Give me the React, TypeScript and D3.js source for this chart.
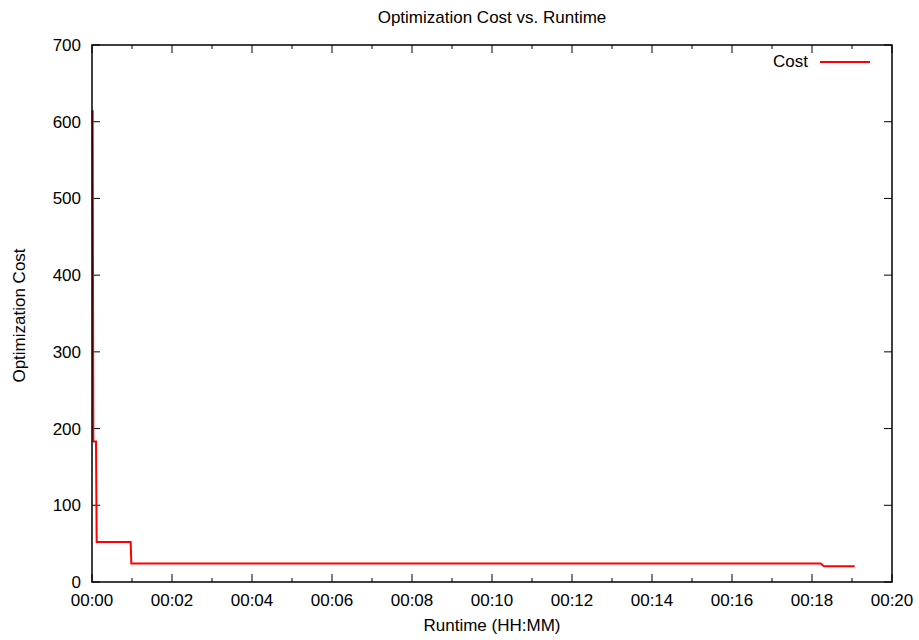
import React, { useEffect, useRef } from "react";
import * as d3 from "d3";

// runtime in seconds, optimization cost
const runtimeSec = [1, 2, 6, 7, 58, 59, 1093, 1098, 1144];
const costValues = [615, 183, 183, 52, 52, 24, 24, 20.5, 20.5];
const yTicks = [0, 100, 200, 300, 400, 500, 600, 700];
const xMajorMinutes = [0, 2, 4, 6, 8, 10, 12, 14, 16, 18, 20];
const xMinorMinutes = [1, 3, 5, 7, 9, 11, 13, 15, 17, 19];

const App = () => {
	const svgRef = useRef<SVGSVGElement>(null);

	useEffect(() => {
		const root = d3.select(svgRef.current);
		root.selectAll("*").remove();

		const width = 919;
		const height = 640;
		const margin = { top: 45, right: 27, bottom: 58, left: 92 };
		const w = width - margin.left - margin.right;
		const h = height - margin.top - margin.bottom;
		const font = "'Liberation Sans', Arial, Helvetica, sans-serif";
		const fs = "17px";

		root.attr("width", width).attr("height", height);
		const svg = root
			.append("g")
			.attr("transform", `translate(${margin.left},${margin.top})`);

		const x = d3.scaleLinear().domain([0, 20 * 60]).range([0, w]);
		const y = d3.scaleLinear().domain([0, 700]).range([h, 0]);

		const fmt = (m: number) =>
			`${String(Math.floor(m / 60)).padStart(2, "0")}:${String(m % 60).padStart(2, "0")}`;

		// ticks on all four sides
		const tickGroup = svg.append("g").attr("stroke", "#000").attr("stroke-width", 1);
		xMajorMinutes.forEach((m) => {
			const px = x(m * 60);
			tickGroup.append("line").attr("x1", px).attr("x2", px).attr("y1", h).attr("y2", h - 8);
			tickGroup.append("line").attr("x1", px).attr("x2", px).attr("y1", 0).attr("y2", 8);
		});
		xMinorMinutes.forEach((m) => {
			const px = x(m * 60);
			tickGroup.append("line").attr("x1", px).attr("x2", px).attr("y1", h).attr("y2", h - 4);
			tickGroup.append("line").attr("x1", px).attr("x2", px).attr("y1", 0).attr("y2", 4);
		});
		yTicks.forEach((v) => {
			const py = y(v);
			tickGroup.append("line").attr("x1", 0).attr("x2", 8).attr("y1", py).attr("y2", py);
			tickGroup.append("line").attr("x1", w).attr("x2", w - 8).attr("y1", py).attr("y2", py);
		});

		// tick labels
		svg
			.selectAll(".xlabel")
			.data(xMajorMinutes)
			.enter()
			.append("text")
			.attr("x", (m) => x(m * 60))
			.attr("y", h + 24)
			.attr("text-anchor", "middle")
			.style("font-family", font)
			.style("font-size", fs)
			.text((m) => fmt(m));

		svg
			.selectAll(".ylabel")
			.data(yTicks)
			.enter()
			.append("text")
			.attr("x", -11)
			.attr("y", (v) => y(v) + 6)
			.attr("text-anchor", "end")
			.style("font-family", font)
			.style("font-size", fs)
			.text((v) => v);

		// cost line
		const points = runtimeSec.map((t, i) => [t, costValues[i]] as [number, number]);
		const line = d3
			.line<[number, number]>()
			.x((d) => x(d[0]))
			.y((d) => y(d[1]));

		svg
			.append("path")
			.datum(points)
			.attr("d", line)
			.attr("fill", "none")
			.attr("stroke", "#ff0000")
			.attr("stroke-width", 2);

		// border
		svg
			.append("rect")
			.attr("width", w)
			.attr("height", h)
			.attr("fill", "none")
			.attr("stroke", "#000")
			.attr("stroke-width", 1.5);

		// legend
		svg
			.append("text")
			.attr("x", 716)
			.attr("y", 22)
			.attr("text-anchor", "end")
			.style("font-family", font)
			.style("font-size", fs)
			.text("Cost");
		svg
			.append("line")
			.attr("x1", 728)
			.attr("x2", 778)
			.attr("y1", 17)
			.attr("y2", 17)
			.attr("stroke", "#ff0000")
			.attr("stroke-width", 2);

		// titles
		root
			.append("text")
			.attr("x", margin.left + w / 2)
			.attr("y", 23)
			.attr("text-anchor", "middle")
			.style("font-family", font)
			.style("font-size", fs)
			.text("Optimization Cost vs. Runtime");

		root
			.append("text")
			.attr("x", margin.left + w / 2)
			.attr("y", 631)
			.attr("text-anchor", "middle")
			.style("font-family", font)
			.style("font-size", fs)
			.text("Runtime (HH:MM)");

		root
			.append("text")
			.attr("transform", `translate(25,${margin.top + h / 2 + 2}) rotate(-90)`)
			.attr("text-anchor", "middle")
			.style("font-family", font)
			.style("font-size", fs)
			.text("Optimization Cost");
	}, []);

	return (
		<div style={{ position: "absolute", left: 0, top: 0 }}>
			<svg ref={svgRef}></svg>
		</div>
	);
};

export default App;
